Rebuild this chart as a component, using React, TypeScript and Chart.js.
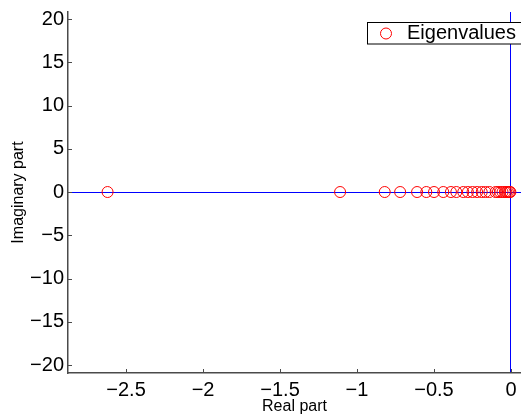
import React, { useEffect, useRef } from "react";
import { Chart, registerables } from "chart.js";

Chart.register(...registerables);

const SERIES_LABEL = "Eigenvalues";
const REAL_PART = [
  -2.62, -1.11, -0.82, -0.72, -0.61, -0.55, -0.5, -0.44, -0.39, -0.355, -0.31,
  -0.28, -0.25, -0.22, -0.19, -0.165, -0.14, -0.1, -0.085, -0.07, -0.055,
  -0.04, -0.03, -0.02, -0.01, -0.004,
];
const IMAG_PART = [
  0, 0, 0, 0, 0, 0, 0, 0, 0, 0, 0, 0, 0, 0, 0, 0, 0, 0, 0, 0, 0, 0, 0, 0, 0, 0,
];
const X_TICKS = [-2.5, -2, -1.5, -1, -0.5, 0];
const Y_TICKS = [-20, -15, -10, -5, 0, 5, 10, 15, 20];
const X_MIN = -2.877;
const X_MAX = 0.065;
const Y_MIN = -20.92;
const Y_MAX = 20.81;

const FONT = "'Liberation Sans', Arial, Helvetica, sans-serif";
const AXIS_COLOR = "#4a4a4a";

const fmt = (v: number | string) => String(v).replace("-", "\u2212");

const AREA = { left: 68, top: 12, right: 521, bottom: 373 };

const fixArea = {
  id: "fixArea",
  afterLayout(chart: any) {
    const ca = chart.chartArea;
    ca.left = AREA.left;
    ca.right = AREA.right;
    ca.top = AREA.top;
    ca.bottom = AREA.bottom;
    ca.width = AREA.right - AREA.left;
    ca.height = AREA.bottom - AREA.top;
    const x = chart.scales.x;
    x.left = AREA.left;
    x.right = AREA.right;
    x.width = AREA.right - AREA.left;
    x.top = AREA.bottom;
    x.bottom = chart.height;
    x.height = chart.height - AREA.bottom;
    x.configure();
    const y = chart.scales.y;
    y.left = 0;
    y.right = AREA.left;
    y.width = AREA.left;
    y.top = AREA.top;
    y.bottom = AREA.bottom;
    y.height = AREA.bottom - AREA.top;
    y.configure();
  },
};

const innerTicks = {
  id: "innerTicks",
  afterDatasetsDraw(chart: any) {
    const { ctx, chartArea, scales } = chart;
    ctx.save();
    ctx.strokeStyle = AXIS_COLOR;
    ctx.lineWidth = 1;
    ctx.beginPath();
    scales.x.ticks.forEach((t: any) => {
      const px = Math.round(scales.x.getPixelForValue(t.value)) + 0.5;
      ctx.moveTo(px, chartArea.bottom);
      ctx.lineTo(px, chartArea.bottom - 4);
    });
    scales.y.ticks.forEach((t: any) => {
      const py = Math.round(scales.y.getPixelForValue(t.value)) + 0.5;
      ctx.moveTo(chartArea.left, py);
      ctx.lineTo(chartArea.left + 4, py);
    });
    ctx.stroke();
    ctx.restore();
  },
};

const boxLegend = {
  id: "boxLegend",
  afterDraw(chart: any) {
    const { ctx } = chart;
    const ds = chart.data.datasets[0];
    ctx.save();
    const x = 367.5;
    const y = 22.5;
    const h = 21.5;
    ctx.fillStyle = "#ffffff";
    ctx.fillRect(x, y, 200, h);
    ctx.strokeStyle = "#000000";
    ctx.lineWidth = 1;
    ctx.strokeRect(x, y, 200, h);
    ctx.beginPath();
    ctx.arc(386, 33.5, 5.5, 0, Math.PI * 2);
    ctx.strokeStyle = ds.borderColor;
    ctx.stroke();
    ctx.fillStyle = "#000000";
    ctx.font = `20px ${FONT}`;
    ctx.textBaseline = "middle";
    ctx.textAlign = "left";
    ctx.fillText(ds.label, 407, 33.5);
    ctx.restore();
  },
};

export default function App() {
  const ref = useRef<HTMLCanvasElement | null>(null);
  useEffect(() => {
    if (!ref.current) return;
    const chart = new Chart(ref.current, {
      type: "scatter",
      data: {
        datasets: [
          {
            label: SERIES_LABEL,
            data: REAL_PART.map((x, i) => ({ x, y: IMAG_PART[i] })),
            borderColor: "#ff0000",
            backgroundColor: "rgba(0,0,0,0)",
            borderWidth: 1,
            pointRadius: 5.5,
            pointHoverRadius: 5.5,
            pointStyle: "circle",
          },
        ],
      },
      options: {
        animation: false,
        responsive: false,
        events: [],
        layout: { padding: { top: 12, right: 0, left: 0, bottom: 0 } },
        plugins: { legend: { display: false }, tooltip: { enabled: false } },
        scales: {
          x: {
            type: "linear",
            min: X_MIN,
            max: X_MAX,
            afterBuildTicks: (s: any) => {
              s.ticks = X_TICKS.map((value) => ({ value }));
            },
            afterFit: (s: any) => {
              s.height = 45;
              s.paddingLeft = 0;
              s.paddingRight = 0;
            },
            border: { display: true, color: AXIS_COLOR, width: 1.5 },
            grid: {
              drawTicks: false,
              color: (c: any) => (c.tick && c.tick.value === 0 ? "#0000ff" : "rgba(0,0,0,0)"),
              lineWidth: 1,
            },
            ticks: {
              padding: 5,
              color: "#000",
              font: { size: 20, family: FONT },
              maxRotation: 0,
              autoSkip: false,
              callback: (v: any) => fmt(v),
            },
            title: {
              display: true,
              text: "Real part",
              color: "#000",
              font: { size: 16, family: FONT, lineHeight: "22px" as any },
              padding: 0,
            },
          },
          y: {
            type: "linear",
            min: Y_MIN,
            max: Y_MAX,
            afterBuildTicks: (s: any) => {
              s.ticks = Y_TICKS.map((value) => ({ value }));
            },
            afterFit: (s: any) => {
              s.width = 68;
              s.paddingTop = 0;
              s.paddingBottom = 0;
            },
            border: { display: true, color: AXIS_COLOR, width: 1.5 },
            grid: {
              drawTicks: false,
              color: (c: any) => (c.tick && c.tick.value === 0 ? "#0000ff" : "rgba(0,0,0,0)"),
              lineWidth: 1,
            },
            ticks: {
              padding: 4,
              color: "#000",
              font: { size: 20, family: FONT },
              autoSkip: false,
              callback: (v: any) => fmt(v),
            },
            title: {
              display: true,
              text: "Imaginary part",
              color: "#000",
              font: { size: 16, family: FONT, lineHeight: "38px" as any },
              padding: 0,
            },
          },
        },
      },
      plugins: [fixArea, innerTicks, boxLegend],
    });
    return () => chart.destroy();
  }, []);
  return (
    <div style={{ position: "fixed", left: 0, top: 0, width: 521, height: 418, background: "#fff" }}>
      <canvas ref={ref} width={521} height={418} style={{ display: "block" }} />
    </div>
  );
}
